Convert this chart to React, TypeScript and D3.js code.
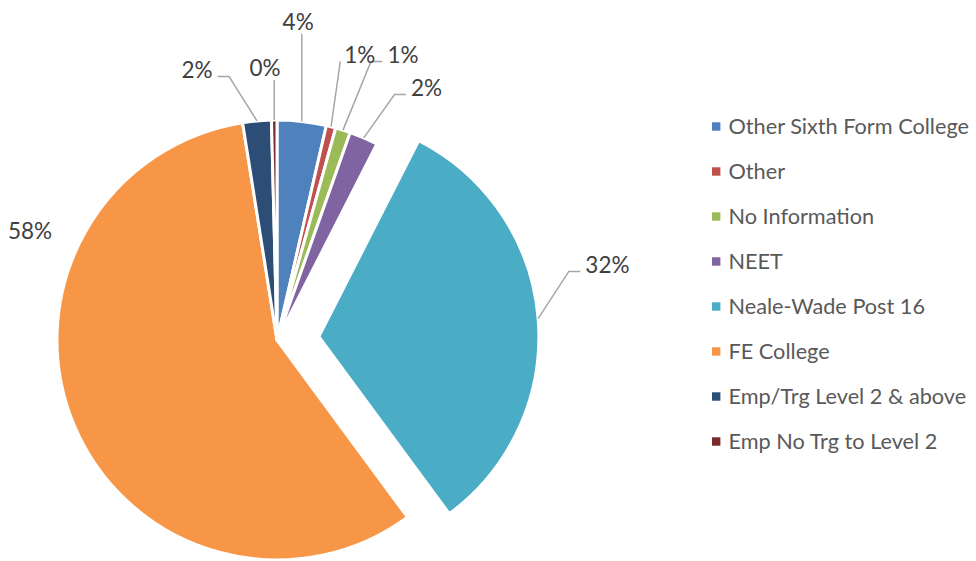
import React, { useEffect, useRef } from "react";
import * as d3 from "d3";

// ---- data ----
const categories = [
  "Other Sixth Form College",
  "Other",
  "No Information",
  "NEET",
  "Neale-Wade Post 16",
  "FE College",
  "Emp/Trg Level 2 & above",
  "Emp No Trg to Level 2",
];
const shares = [3.6, 0.7, 1.1, 2.1, 32.4, 57.6, 2.1, 0.4];
const colors = ["#4F81BD", "#C0504D", "#9BBB59", "#8064A2", "#4BACC6", "#F79646", "#2C4D75", "#772C2A"];
const explodedCategories = ["Neale-Wade Post 16"];

// ---- layout (not data) ----
const WIDTH = 976;
const HEIGHT = 561;
const CX = 277;
const CY = 340;
const RADIUS = 220;
const EXPLODE = 42;
const FONT = "Lato, 'Open Sans', sans-serif";
const FS = 22.5;
const LEGEND_FS = 21.7;
// label placement in polar terms (degrees clockwise from 12 o'clock, distance from slice centre)
const labelAngles = [3.8, 16.2, 23.85, 30.7, 76.06, 293.8, 343.5, 357.5];
const labelRadii = [319, 297, 311.6, 293, 297.3, 270, 281.6, 272.3];
const leaderKinds = ["vertical", "straight", "elbow", "elbow", "elbow", "none", "elbow", "vertical"];
const LEGEND_X = 712;
const LEGEND_Y0 = 126.5;
const LEGEND_STEP = 45;

const rad = (deg: number) => (deg * Math.PI) / 180;

export default function App() {
  const ref = useRef<SVGSVGElement | null>(null);

  useEffect(() => {
    const svg = d3.select(ref.current);
    svg.selectAll("*").remove();

    const rows = categories.map((c, i) => ({ category: c, value: shares[i], color: colors[i], i }));
    const pie = d3
      .pie<any>()
      .sort(null)
      .value((d: any) => d.value)
      .startAngle(0)
      .endAngle(2 * Math.PI);
    const arcs = pie(rows);
    const arcGen = d3.arc<any>().innerRadius(0).outerRadius(RADIUS);

    const centreOf = (a: any) => {
      if (!explodedCategories.includes(a.data.category)) return [CX, CY];
      const mid = (a.startAngle + a.endAngle) / 2;
      return [CX + EXPLODE * Math.sin(mid), CY - EXPLODE * Math.cos(mid)];
    };

    const gPie = svg.append("g");
    gPie
      .selectAll("path")
      .data(arcs)
      .join("path")
      .attr("transform", (a: any) => {
        const [x, y] = centreOf(a);
        return `translate(${x},${y})`;
      })
      .attr("d", arcGen as any)
      .attr("fill", (a: any) => a.data.color)
      .attr("stroke", "#ffffff")
      .attr("stroke-width", 3)
      .attr("stroke-linejoin", "round");

    // labels
    const gLead = svg.append("g");
    const gLab = svg.append("g");
    arcs.forEach((a: any, i: number) => {
      const [ox, oy] = centreOf(a);
      const la = rad(labelAngles[i]);
      const lx = ox + labelRadii[i] * Math.sin(la);
      const ly = oy - labelRadii[i] * Math.cos(la);
      const txt = gLab
        .append("text")
        .attr("x", lx)
        .attr("y", ly + 0.36 * FS)
        .attr("text-anchor", "middle")
        .attr("font-family", FONT)
        .attr("font-size", FS)
        .attr("fill", "#404040")
        .text(`${Math.round(a.data.value)}%`);
      const w = (txt.node() as SVGTextElement).getBBox().width;

      const mid = (a.startAngle + a.endAngle) / 2;
      const ax = ox + RADIUS * Math.sin(mid);
      const ay = oy - RADIUS * Math.cos(mid);
      const kind = leaderKinds[i];
      let pts: [number, number][] = [];
      if (kind === "vertical") {
        pts = [
          [ax, ay],
          [ax, ly + 12],
        ];
      } else if (kind === "straight") {
        const ex = lx > ax ? lx - w / 2 - 4 : lx + w / 2 + 4;
        pts = [
          [ax, ay],
          [ex, ly + 6.5],
        ];
      } else if (kind === "elbow") {
        const right = lx > ax;
        const ex = right ? lx - w / 2 - 5 : lx + w / 2 + 5;
        const bx = right ? ex - 11.5 : ex + 11.5;
        pts = [
          [ax, ay],
          [bx, ly + 6.5],
          [ex, ly + 6.5],
        ];
      }
      if (pts.length) {
        gLead
          .append("path")
          .attr("d", d3.line()(pts) as string)
          .attr("fill", "none")
          .attr("stroke", "#A6A6A6")
          .attr("stroke-width", 1.5);
      }
    });

    // legend
    const yLeg = d3
      .scalePoint<string>()
      .domain(categories)
      .range([LEGEND_Y0, LEGEND_Y0 + LEGEND_STEP * (categories.length - 1)]);
    const gLeg = svg.append("g");
    const items = gLeg
      .selectAll("g")
      .data(rows)
      .join("g")
      .attr("transform", (d: any) => `translate(${LEGEND_X},${yLeg(d.category)})`);
    items
      .append("rect")
      .attr("x", 0)
      .attr("y", -4.2)
      .attr("width", 8.4)
      .attr("height", 8.4)
      .attr("fill", (d: any) => d.color);
    items
      .append("text")
      .attr("x", 16.5)
      .attr("y", 0.36 * LEGEND_FS)
      .attr("font-family", FONT)
      .attr("font-size", LEGEND_FS)
      .attr("fill", "#595959")
      .text((d: any) => d.category);
  }, []);

  return (
    <div style={{ position: "absolute", left: 0, top: 0 }}>
      <svg ref={ref} width={WIDTH} height={HEIGHT} style={{ display: "block", background: "#ffffff" }} />
    </div>
  );
}
